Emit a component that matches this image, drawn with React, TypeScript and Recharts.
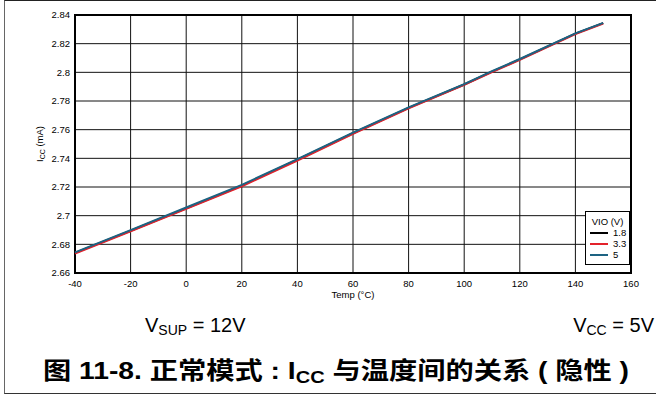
import { CartesianGrid, Label, Line, LineChart, ReferenceArea, XAxis, YAxis } from 'recharts';

// Normal mode: Icc vs temperature (recessive), three VIO levels that nearly overlap.
const temps = [-40, -20, 0, 20, 40, 60, 80, 100, 110, 120, 140, 150];
const vio18 = [2.674, 2.6895, 2.7052, 2.721, 2.739, 2.7575, 2.7752, 2.7915, 2.8005, 2.809, 2.827, 2.8343];
const vio33 = [2.6736, 2.6891, 2.7048, 2.7205, 2.7385, 2.7571, 2.7749, 2.7912, 2.8002, 2.8087, 2.8267, 2.8341];
const vio50 = [2.6744, 2.6899, 2.7057, 2.7215, 2.7395, 2.7579, 2.7755, 2.7918, 2.8008, 2.8093, 2.8272, 2.8345];

const xTicks = [-40, -20, 0, 20, 40, 60, 80, 100, 120, 140, 160];
const yTicks = [2.66, 2.68, 2.7, 2.72, 2.74, 2.76, 2.78, 2.8, 2.82, 2.84];

const series = [
  { key: 'v18', name: '1.8', colour: '#000000' },
  { key: 'v33', name: '3.3', colour: '#e3222b' },
  { key: 'v50', name: '5', colour: '#1d6382' },
];

const data = temps.map((temp, i) => ({ temp, v18: vio18[i], v33: vio33[i], v50: vio50[i] }));

const FONT = '"Liberation Sans", Arial, "Noto Sans CJK SC", sans-serif';

function YTitle(props: any) {
  const vb = props.viewBox || { x: 0, y: 15, width: 75, height: 258 };
  const x = vb.x + 43;
  const y = vb.y + vb.height / 2;
  return (
    <text x={x} y={y} transform={`rotate(-90 ${x} ${y})`} textAnchor="middle" fontSize={9.5} fill="#000" fontFamily={FONT}>
      I<tspan fontSize={7} dy={2}>CC</tspan>
      <tspan dy={-2}> (mA)</tspan>
    </text>
  );
}

function VioLegend() {
  return (
    <div
      style={{
        position: 'absolute',
        left: 585,
        top: 211,
        width: 43,
        height: 52,
        border: '1.5px solid #000',
        background: '#fff',
        fontFamily: FONT,
        fontSize: 9.5,
        lineHeight: '11px',
        color: '#000',
      }}
    >
      <div style={{ textAlign: 'center', marginTop: 4 }}>VIO (V)</div>
      {series.map((s) => (
        <div key={s.key} style={{ display: 'flex', alignItems: 'center', height: 11 }}>
          <span style={{ display: 'inline-block', width: 18, height: 2, background: s.colour, marginLeft: 4, marginRight: 5 }} />
          <span>{s.name}</span>
        </div>
      ))}
    </div>
  );
}

export default function App() {
  return (
    <div
      style={{
        position: 'absolute',
        left: 0,
        top: 0,
        width: 656,
        height: 396,
        background: '#fff',
        overflow: 'hidden',
        fontFamily: FONT,
      }}
    >
      <div
        style={{
          position: 'absolute',
          left: 4,
          top: 0,
          width: 700,
          height: 392,
          borderTop: '1.5px solid #222',
          borderLeft: '1.5px solid #666',
          borderBottom: '1.5px solid #333',
        }}
      />
      <div style={{ position: 'absolute', left: 0, top: 0 }}>
        <LineChart width={656} height={300} data={data} margin={{ top: 15, right: 25, left: 0, bottom: 0 }}>
          <CartesianGrid stroke="#111" strokeWidth={1} />
          <XAxis
            dataKey="temp"
            type="number"
            domain={[-40, 160]}
            ticks={xTicks}
            height={27}
            axisLine={false}
            tickLine={false}
            tickSize={5}
            tickMargin={2}
            tick={{ fontSize: 9.5, fill: '#000', fontFamily: FONT }}
            interval={0}
          >
            <Label value="Temp (°C)" position="insideBottom" offset={2} fontSize={9.5} fill="#000" fontFamily={FONT} />
          </XAxis>
          <YAxis
            type="number"
            domain={[2.66, 2.84]}
            ticks={yTicks}
            width={75}
            axisLine={false}
            tickLine={false}
            tickSize={3}
            tickMargin={2}
            tick={{ fontSize: 9.5, fill: '#000', fontFamily: FONT }}
            tickFormatter={(v: number) => String(parseFloat(v.toFixed(2)))}
            interval={0}
          >
            <Label content={<YTitle />} />
          </YAxis>
          <ReferenceArea x1={-40} x2={160} y1={2.66} y2={2.84} fill="none" fillOpacity={0} stroke="#000" strokeWidth={2} />
          {series.map((s) => (
            <Line
              key={s.key}
              type="linear"
              dataKey={s.key}
              name={s.name}
              stroke={s.colour}
              strokeWidth={2}
              dot={false}
              activeDot={false}
              isAnimationActive={false}
            />
          ))}
        </LineChart>
      </div>
      <VioLegend />
      <svg width={656} height={396} style={{ position: 'absolute', left: 0, top: 0, pointerEvents: 'none' }}>
        <text x={145} y={331.5} fontSize={20} fill="#000" fontFamily={FONT}>
          V<tspan fontSize={14} dy={3.5}>SUP</tspan>
          <tspan dy={-3.5}> = 12V</tspan>
        </text>
        <text x={654} y={331.5} fontSize={20} fill="#000" textAnchor="end" fontFamily={FONT}>
          V<tspan fontSize={14} dy={3.5}>CC</tspan>
          <tspan dy={-3.5}> = 5V</tspan>
        </text>
        <text
          x={43}
          y={379}
          fontSize={24}
          fontWeight="bold"
          fill="#000"
          fontFamily={FONT}
          textLength={586}
          lengthAdjust="spacingAndGlyphs"
        >
          图 11-8. 正常模式 : I<tspan fontSize={17} dy={4}>CC</tspan>
          <tspan dy={-4}> 与温度间的关系 ( 隐性 )</tspan>
        </text>
      </svg>
    </div>
  );
}
